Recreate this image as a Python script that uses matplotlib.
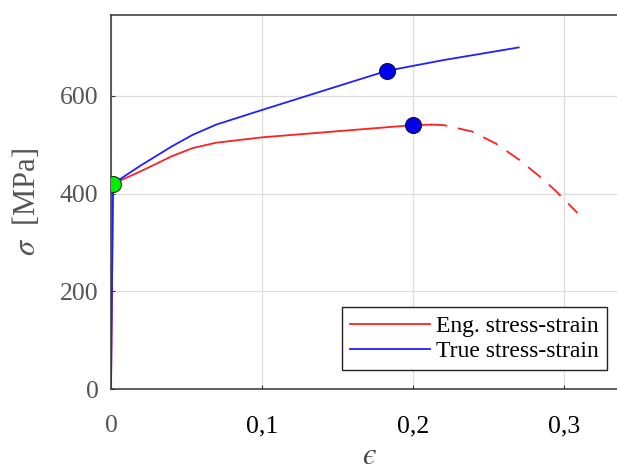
import matplotlib
matplotlib.use("Agg")
import matplotlib.pyplot as plt

# Data
true_x = [0.0, 0.0013, 0.02, 0.04, 0.054, 0.0696, 0.1, 0.135, 0.1825, 0.22, 0.27]
true_y = [0.0, 420, 458, 496, 520, 541, 571, 605, 651, 673, 699]
eng_x = [0.0, 0.0013, 0.02, 0.04, 0.054, 0.0696, 0.1, 0.148, 0.2, 0.212]
eng_y = [0.0, 420, 446, 476, 493, 504, 515, 527, 540, 541]
neck_x = [0.212, 0.2205, 0.239, 0.255, 0.2704, 0.285, 0.295, 0.309]
neck_y = [541, 540, 527, 502, 469, 432, 404, 360]
yield_pt = (0.0013, 420)
uts_true = (0.1825, 651)
uts_eng = (0.2, 540)
xticks = [0, 0.1, 0.2, 0.3]
xticklabels = ["0", "0,1", "0,2", "0,3"]
yticks = [0, 200, 400, 600]
yticklabels = ["0", "200", "400", "600"]

plt.rcParams['font.family'] = ['Liberation Serif', 'DejaVu Serif']
plt.rcParams['mathtext.fontset'] = 'stix'

fig = plt.figure(figsize=(6.17, 4.70), dpi=100)
ax = fig.add_axes([111/617, 81/470, (628-111)/617, (389-14.7)/470])

red = '#ff2020'
blue = '#2020ff'
ax.plot(eng_x, eng_y, color=red, lw=1.3, label='Eng. stress-strain', zorder=3)
ax.plot(neck_x, neck_y, color=red, lw=1.3, linestyle=(0, (9, 6)), zorder=3)
ax.plot(true_x, true_y, color=blue, lw=1.3, label='True stress-strain', zorder=4)
ax.plot(*uts_true, 'o', ms=11.5, mfc='#0000ee', mec='#101040', mew=0.8, zorder=5)
ax.plot(*uts_eng, 'o', ms=11.5, mfc='#0000ee', mec='#101040', mew=0.8, zorder=5)
ax.plot(*yield_pt, 'o', ms=11.5, mfc='#00ee00', mec='#104010', mew=0.8, zorder=6)

ax.set_xlim(0, (628-111)/1510)
ax.set_ylim(0, 766)
ax.set_xticks(xticks)
ax.set_xticklabels(xticklabels)
ax.set_yticks(yticks)
ax.set_yticklabels(yticklabels)
ax.grid(True, color='#dddddd', lw=0.9)
ax.set_axisbelow(True)
ax.tick_params(direction='in', length=3, color='#333333', width=0.8)
ax.tick_params(axis='x', labelsize=18.5, pad=19, labelcolor='black')
ax.tick_params(axis='y', labelsize=18.5, pad=9, labelcolor='#555555')
ax.get_xticklabels()[0].set_color('#555555')
for s in ['left', 'bottom', 'top', 'right']:
    ax.spines[s].set_color('#333333')
    ax.spines[s].set_linewidth(1.1)

ax.set_xlabel('$ϵ$', fontsize=22, labelpad=3, color='#444444')
ax.set_ylabel(r'$\sigma$  [MPa]', fontsize=22, labelpad=13, color='#555555')

leg = fig.legend(loc='upper right', bbox_to_anchor=(607/617, (470-307)/470),
                 bbox_transform=fig.transFigure, fontsize=17, handlelength=3.4,
                 handletextpad=0.25, borderaxespad=0, fancybox=False, framealpha=1,
                 edgecolor='#222222', borderpad=0.35, labelspacing=0.15)
leg.get_frame().set_linewidth(1.0)

fig.savefig('out.png', dpi=100)
